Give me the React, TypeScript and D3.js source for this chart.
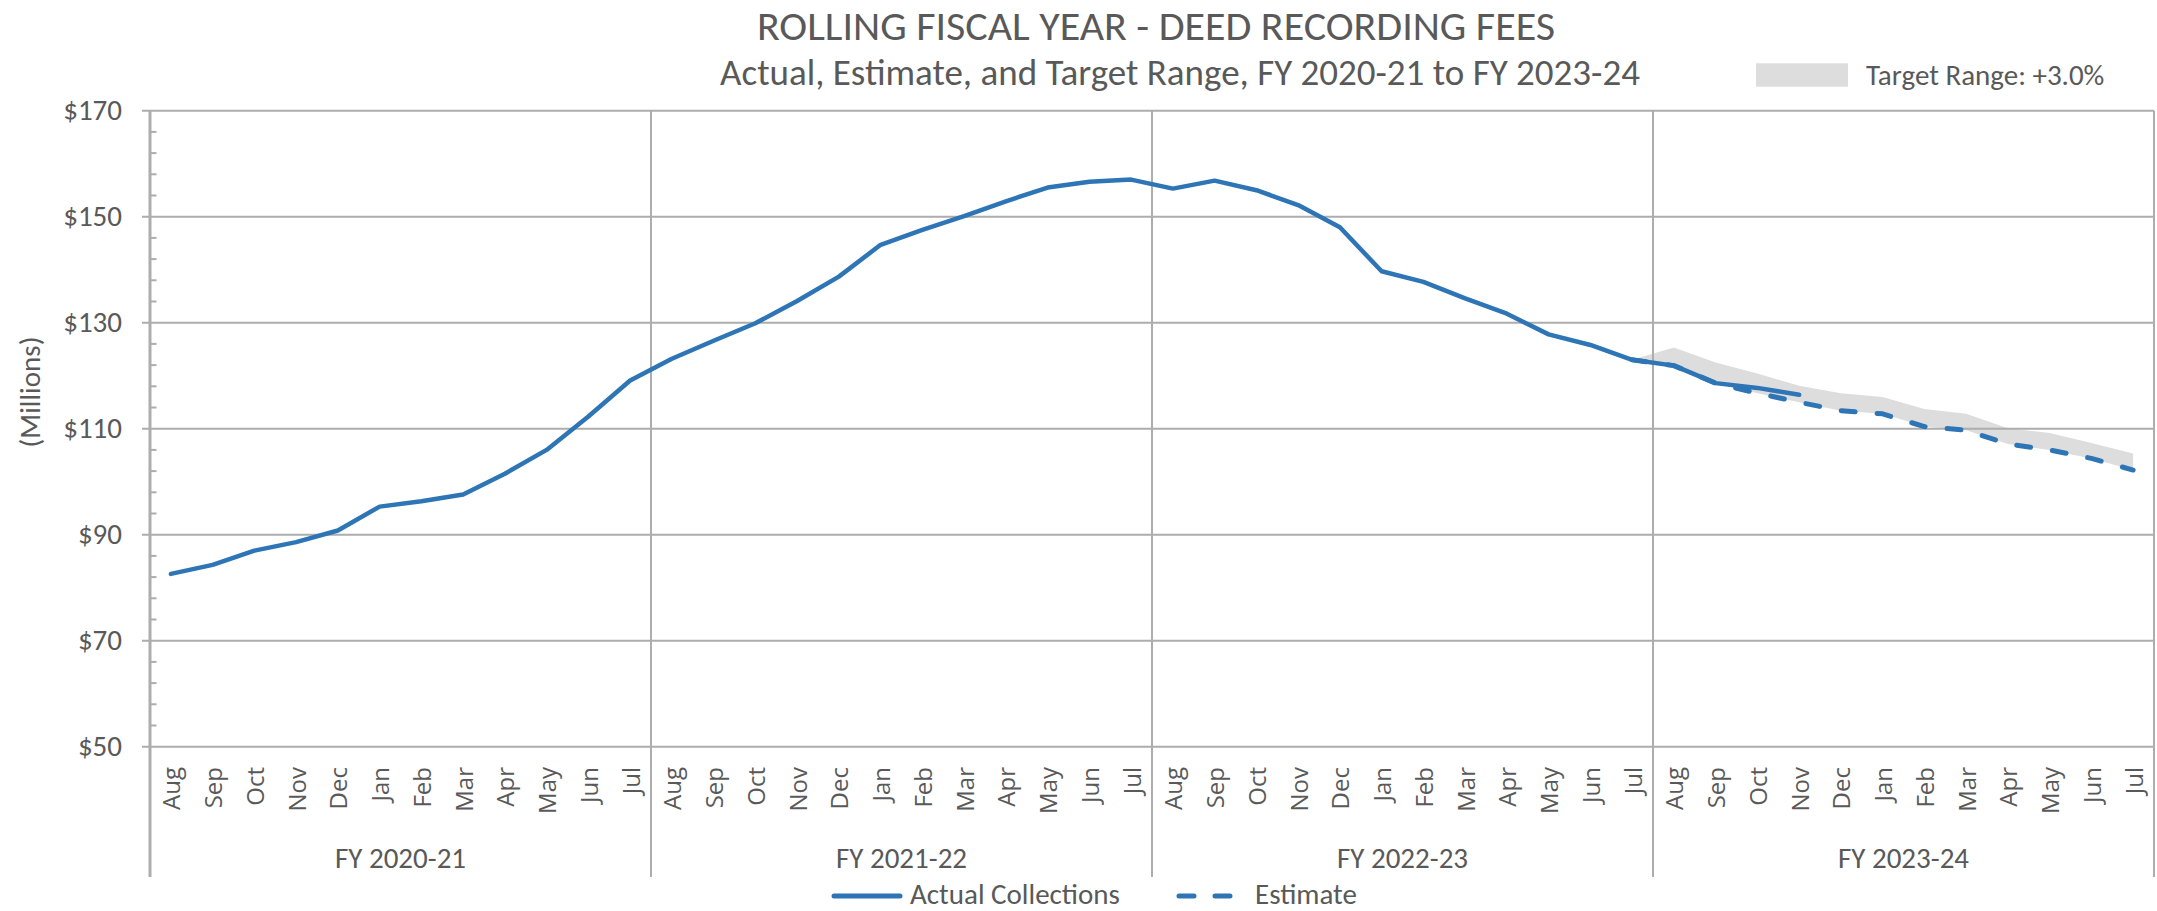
import React from "react";
import * as d3 from "d3";

const fiscalYears = ["FY 2020-21", "FY 2021-22", "FY 2022-23", "FY 2023-24"];
const months = ["Aug", "Sep", "Oct", "Nov", "Dec", "Jan", "Feb", "Mar", "Apr", "May", "Jun", "Jul"];

// Rolling fiscal-year deed recording fees, $ millions (Aug FY20-21 ... Nov FY23-24)
const actualValues = [
  82.6, 84.3, 87.0, 88.6, 90.8, 95.3, 96.3, 97.6, 101.5, 106.0, 112.3, 119.1,
  123.2, 126.6, 129.9, 134.1, 138.7, 144.7, 147.5, 150.1, 152.9, 155.5, 156.6, 157.0,
  155.3, 156.8, 155.0, 152.2, 148.0, 139.7, 137.7, 134.6, 131.7, 127.8, 125.8, 123.0,
  121.9, 118.6, 117.7, 116.4,
];
// Estimate and target upper bound, from Jul FY 2022-23 to Jul FY 2023-24
const estimateStart = 35;
const estimateValues = [123.0, 121.9, 118.6, 116.7, 115.0, 113.4, 112.8, 110.4, 109.7, 107.1, 106.0, 104.4, 102.2];
const targetUpperValues = [123.0, 125.3, 122.5, 120.4, 118.1, 116.7, 116.0, 113.7, 112.8, 110.1, 109.2, 107.3, 105.3];
const yTicks = [50, 70, 90, 110, 130, 150, 170];

const W = 2157;
const H = 911;
const M = { left: 150, right: 2154, top: 110.7, bottom: 746.7 };
const TEXT = "#595959";
const GRID = "#ADADAD";
const BLUE = "#2E75B6";
const BAND = "#DDDDDD";
const FONT = "Carlito, Calibri, 'Liberation Sans Narrow', 'Arial Narrow', 'Open Sans', sans-serif";
const MONTH_FONT = "'Open Sans', 'Noto Sans', sans-serif";

export default function App() {
  const n = fiscalYears.length * months.length;
  const idx = d3.range(n);
  const x = d3.scaleBand<number>().domain(idx).range([M.left, M.right]).padding(0);
  const bw = x.bandwidth();
  const cx = (i: number) => (x(i) as number) + bw / 2;
  const y = d3.scaleLinear().domain([50, 170]).range([M.bottom, M.top]);
  const minorTicks = d3.range(50, 170.01, 4).filter((v) => !yTicks.includes(v));

  const line = d3.line<number>().x((_, i) => cx(i)).y((d) => y(d));
  const estLine = d3.line<number>().x((_, i) => cx(i + estimateStart)).y((d) => y(d));
  const area = d3
    .area<number>()
    .x((_, i) => cx(i + estimateStart))
    .y0((_, i) => y(estimateValues[i]))
    .y1((d) => y(d));

  const fyWidth = bw * months.length;
  const bottomLine = 877;

  return (
    <svg width={W} height={H} style={{ display: "block", position: "absolute", left: 0, top: 0 }}>
      <rect width={W} height={H} fill="#fff" />
      {/* Title */}
      <text x={1156} y={40} textAnchor="middle" fontFamily={FONT} fontSize={42} fill={TEXT}>
        ROLLING FISCAL YEAR - DEED RECORDING FEES
      </text>
      <text x={1180} y={85} textAnchor="middle" fontFamily={FONT} fontSize={37} fill={TEXT}>
        Actual, Estimate, and Target Range, FY 2020-21 to FY 2023-24
      </text>
      {/* Target range legend */}
      <rect x={1756} y={63.3} width={92} height={23.4} fill={BAND} />
      <text x={1866} y={85} fontFamily={FONT} fontSize={29} fill={TEXT}>
        Target Range: +3.0%
      </text>

      {/* Target band */}
      <path d={area(targetUpperValues) || ""} fill={BAND} />

      {/* Horizontal gridlines */}
      {yTicks.map((v) => (
        <line key={v} x1={M.left - 8} x2={M.right} y1={y(v)} y2={y(v)} stroke={GRID} strokeWidth={2} />
      ))}
      {/* minor ticks */}
      {minorTicks.map((v) => (
        <line key={v} x1={M.left} x2={M.left + 6.5} y1={y(v)} y2={y(v)} stroke={GRID} strokeWidth={2} />
      ))}
      {/* y labels */}
      {yTicks.map((v) => (
        <text
          key={v}
          x={122}
          y={y(v)}
          dy="0.33em"
          textAnchor="end"
          fontFamily={FONT}
          fontSize={29}
          fill={TEXT}
        >
          {"$" + v}
        </text>
      ))}
      <text
        transform={`translate(40,392) rotate(-90)`}
        textAnchor="middle"
        fontFamily={FONT}
        fontSize={29}
        fill={TEXT}
      >
        (Millions)
      </text>

      {/* Vertical dividers and axis */}
      {d3.range(fiscalYears.length + 1).map((k) => (
        <line
          key={k}
          x1={M.left + k * fyWidth}
          x2={M.left + k * fyWidth}
          y1={M.top}
          y2={bottomLine}
          stroke={GRID}
          strokeWidth={k === 0 ? 3 : 2}
        />
      ))}

      {/* Month labels */}
      {idx.map((i) => (
        <text
          key={i}
          transform={`translate(${cx(i) + 9.5},767) rotate(-90)`}
          textAnchor="end"
          fontFamily={MONTH_FONT}
          fontSize={24}
          fill={TEXT}
        >
          {months[i % months.length]}
        </text>
      ))}
      {/* FY labels */}
      {fiscalYears.map((fy, k) => (
        <text
          key={fy}
          x={M.left + (k + 0.5) * fyWidth}
          y={868}
          textAnchor="middle"
          fontFamily={FONT}
          fontSize={29}
          fill={TEXT}
        >
          {fy}
        </text>
      ))}

      {/* Series */}
      <path
        d={estLine(estimateValues) || ""}
        fill="none"
        stroke={BLUE}
        strokeWidth={5}
        strokeDasharray="14 22"
        strokeLinecap="round"
        strokeLinejoin="round"
      />
      <path
        d={line(actualValues) || ""}
        fill="none"
        stroke={BLUE}
        strokeWidth={4.5}
        strokeLinejoin="round"
        strokeLinecap="round"
      />

      {/* Bottom legend */}
      <line x1={834} x2={900} y1={896} y2={896} stroke={BLUE} strokeWidth={5} strokeLinecap="round" />
      <text x={910} y={904} fontFamily={FONT} fontSize={29} fill={TEXT}>
        Actual Collections
      </text>
      <line
        x1={1179}
        x2={1231}
        y1={896}
        y2={896}
        stroke={BLUE}
        strokeWidth={5}
        strokeLinecap="round"
        strokeDasharray="15 21"
      />
      <text x={1255} y={904} fontFamily={FONT} fontSize={29} fill={TEXT}>
        Estimate
      </text>
    </svg>
  );
}
